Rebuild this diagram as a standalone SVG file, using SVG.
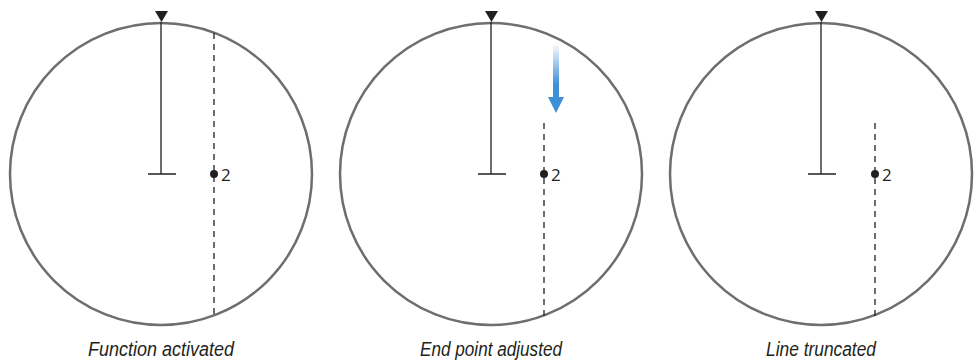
<svg xmlns="http://www.w3.org/2000/svg" width="979" height="363" viewBox="0 0 979 363">
<style>
.ring{fill:none;stroke:#6d6e71;stroke-width:2.5}
.solid{stroke:#231f20;stroke-width:1.3;fill:none}
.dash{stroke:#231f20;stroke-width:1.3;stroke-dasharray:6 5;fill:none}
.dot{fill:#231f20}
.tri{fill:#231f20}
.num{font-family:"Open Sans","Liberation Sans",sans-serif;font-size:17px;fill:#231f20}
.cap{font-family:"Liberation Sans",sans-serif;font-style:italic;font-size:20px;fill:#231f20;text-anchor:middle}
</style>
<defs>
<linearGradient id="ag" x1="0" y1="0" x2="0" y2="1">
<stop offset="0" stop-color="#3d8fd6" stop-opacity="0"/>
<stop offset="0.6" stop-color="#3d8fd6"/>
<stop offset="1" stop-color="#3d8fd6"/>
</linearGradient>
</defs>
<g id="panel1">
<circle class="ring" cx="161" cy="174" r="151"/>
<path class="solid" d="M161 22V174M148 174H176"/>
<polygon class="tri" points="155,11 168,11 161.5,22"/>
<line class="dash" x1="214" y1="33" x2="214" y2="316"/>
<circle class="dot" cx="214" cy="174" r="4"/>
<text class="num" x="221" y="181">2</text>
<text class="cap" x="161" y="356" textLength="146" lengthAdjust="spacingAndGlyphs">Function activated</text>
</g>
<g id="panel2">
<circle class="ring" cx="491" cy="174" r="151"/>
<path class="solid" d="M491 22V174M478 174H506"/>
<polygon class="tri" points="485,11 498,11 491.5,22"/>
<line class="dash" x1="544" y1="123" x2="544" y2="316"/>
<circle class="dot" cx="544" cy="174" r="4"/>
<text class="num" x="551" y="181">2</text>
<text class="cap" x="491" y="356" textLength="142" lengthAdjust="spacingAndGlyphs">End point adjusted</text>
</g>
<g id="panel3">
<circle class="ring" cx="821" cy="174" r="151"/>
<path class="solid" d="M821 22V174M808 174H836"/>
<polygon class="tri" points="815,11 828,11 821.5,22"/>
<line class="dash" x1="875" y1="123" x2="875" y2="316"/>
<circle class="dot" cx="875" cy="174" r="4"/>
<text class="num" x="882" y="181">2</text>
<text class="cap" x="821" y="356" textLength="110" lengthAdjust="spacingAndGlyphs">Line truncated</text>
</g>
<g id="connectors">
<path d="M553 43H559V97H564L556 113L548 97H553Z" fill="url(#ag)"/>
</g>
</svg>
